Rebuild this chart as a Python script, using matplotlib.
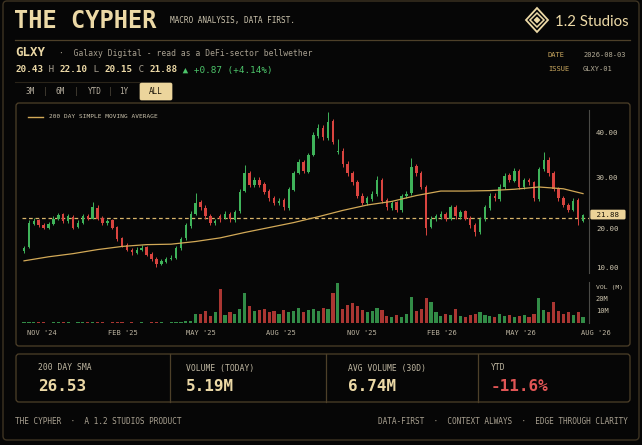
import numpy as np
import pandas as pd
import matplotlib.pyplot as plt
from matplotlib.patches import FancyBboxPatch, Polygon

# ---- data (4 trading-day candles, Nov 2024 -> Aug 2026) ----
opens = [13.8, 14.6, 19.8, 20.6, 19.6, 19.0, 19.7, 21.0, 21.9, 20.4,
         21.4, 19.1, 20.0, 21.6, 21.0, 23.4, 21.1, 19.9, 20.6, 19.1,
         16.6, 15.1, 14.1, 13.4, 14.0, 14.6, 13.1, 12.1, 10.9, 11.4,
         12.1, 12.3, 14.4, 16.6, 19.4, 22.1, 24.6, 23.4, 21.6, 19.9,
         21.5, 21.1, 22.1, 20.7, 22.6, 27.1, 31.2, 28.4, 29.6, 28.6,
         27.1, 25.6, 24.4, 25.1, 23.4, 27.4, 31.1, 33.6, 31.4, 35.1,
         39.4, 41.2, 38.9, 42.6, 35.8, 36.1, 33.1, 31.1, 29.1, 26.1,
         24.4, 25.4, 26.4, 29.6, 25.1, 23.4, 24.6, 22.9, 25.9, 26.6,
         32.6, 31.1, 28.1, 19.1, 20.9, 21.4, 22.1, 20.9, 23.6, 21.4,
         22.6, 21.1, 19.6, 17.9, 20.9, 23.4, 26.1, 25.4, 27.9, 30.6,
         29.4, 31.6, 27.9, 29.6, 29.1, 25.4, 31.9, 34.1, 31.1, 27.6,
         25.6, 24.1, 22.9, 25.1, 20.43]
highs = [14.9, 20.6, 21.2, 20.9, 20.0, 20.3, 21.6, 22.3, 22.2, 22.0,
         21.7, 20.6, 22.0, 22.1, 24.7, 23.9, 21.5, 21.0, 20.9, 19.4,
         17.0, 15.5, 14.5, 14.6, 15.2, 14.9, 13.5, 12.4, 11.9, 12.5,
         12.8, 14.9, 17.0, 20.0, 22.6, 26.7, 25.2, 23.9, 21.9, 20.9,
         21.9, 22.6, 22.5, 23.0, 27.6, 32.9, 31.6, 30.2, 30.2, 29.1,
         27.5, 26.0, 25.6, 25.5, 28.0, 31.6, 34.2, 34.0, 35.6, 40.2,
         42.0, 41.8, 44.7, 43.2, 38.6, 36.6, 33.8, 31.6, 29.5, 26.6,
         26.0, 27.0, 30.5, 30.0, 25.6, 25.0, 25.0, 26.5, 27.0, 34.4,
         33.2, 31.5, 28.4, 21.5, 22.0, 22.6, 22.5, 24.0, 23.9, 23.0,
         22.9, 21.5, 19.9, 21.4, 24.0, 26.6, 26.6, 28.6, 31.0, 31.2,
         32.3, 31.9, 30.0, 30.0, 29.4, 32.5, 35.8, 34.6, 31.5, 28.0,
         26.0, 24.5, 25.6, 25.5, 22.10]
lows = [13.4, 14.4, 19.5, 19.2, 18.6, 18.7, 19.5, 20.7, 20.1, 20.1,
        18.7, 18.8, 19.8, 20.6, 20.8, 20.6, 19.6, 19.6, 18.6, 16.1,
        14.6, 13.7, 13.0, 13.1, 13.8, 12.7, 11.6, 10.2, 10.6, 11.1,
        11.7, 12.0, 14.1, 16.2, 19.0, 21.8, 23.0, 21.0, 19.6, 19.6,
        20.2, 20.8, 20.3, 20.3, 22.2, 26.8, 28.0, 27.9, 28.0, 26.5,
        25.0, 24.0, 24.0, 23.0, 23.0, 27.0, 30.8, 31.0, 31.0, 34.8,
        38.9, 38.5, 38.5, 37.5, 35.3, 32.5, 30.5, 28.5, 25.6, 24.0,
        24.0, 25.0, 26.0, 24.5, 23.0, 23.0, 22.5, 22.5, 25.5, 26.2,
        30.5, 27.5, 17.3, 18.8, 20.5, 21.0, 20.5, 20.6, 21.0, 21.0,
        20.6, 19.0, 17.2, 17.5, 20.5, 23.0, 25.0, 25.0, 27.5, 29.0,
        29.0, 27.6, 27.5, 28.5, 25.0, 25.0, 31.5, 30.5, 27.0, 25.0,
        23.6, 22.5, 22.6, 19.6, 20.15]
closes = [14.5, 20.0, 20.5, 19.5, 19.0, 19.8, 21.0, 21.8, 20.5, 21.5,
          19.0, 20.0, 21.5, 21.0, 23.5, 21.0, 20.0, 20.5, 19.0, 16.5,
          15.0, 14.0, 13.5, 14.0, 14.5, 13.0, 12.0, 10.8, 11.5, 12.0,
          12.2, 14.5, 16.5, 19.5, 22.0, 24.5, 23.5, 21.5, 20.0, 20.5,
          21.0, 22.0, 20.8, 22.5, 27.0, 31.0, 28.5, 29.5, 28.5, 27.0,
          25.5, 24.5, 25.0, 23.5, 27.5, 31.0, 33.5, 31.5, 35.0, 39.5,
          41.0, 39.0, 42.5, 38.0, 36.0, 33.0, 31.0, 29.0, 26.0, 24.5,
          25.5, 26.5, 29.5, 25.0, 23.5, 24.5, 23.0, 26.0, 26.5, 32.5,
          31.0, 28.0, 19.0, 21.0, 21.5, 22.0, 21.0, 23.5, 21.5, 22.5,
          21.0, 19.5, 18.0, 21.0, 23.5, 26.0, 25.5, 28.0, 30.5, 29.5,
          31.5, 28.0, 29.5, 29.0, 25.5, 32.0, 34.0, 31.0, 27.5, 25.5,
          24.0, 23.0, 25.0, 21.01, 21.88]
volume_m = [0.8, 1.2, 0.6, 0.5, 0.7, 0.4, 0.6, 0.9, 0.5, 0.6,
            0.4, 0.5, 0.7, 0.5, 1.1, 0.6, 0.5, 0.4, 0.6, 0.8,
            0.5, 0.4, 0.6, 0.3, 0.5, 0.4, 0.6, 0.9, 0.5, 0.4,
            0.6, 0.7, 1.0, 1.4, 1.8, 7.5, 8.0, 10.0, 6.0, 9.0,
            29.0, 7.0, 9.0, 8.0, 12.0, 25.0, 14.0, 10.0, 11.0, 12.0,
            9.0, 10.0, 8.0, 11.0, 9.0, 10.0, 13.0, 9.0, 11.0, 12.0,
            10.0, 13.0, 12.0, 25.0, 34.0, 12.0, 15.0, 17.0, 14.0, 11.0,
            9.0, 10.0, 13.0, 11.0, 6.0, 5.0, 7.0, 5.0, 8.0, 22.0,
            10.0, 12.0, 21.0, 18.0, 9.0, 6.0, 8.0, 7.0, 12.0, 6.0,
            5.0, 7.0, 8.0, 9.0, 7.0, 6.0, 5.0, 8.0, 6.0, 7.0,
            5.0, 6.0, 7.0, 5.0, 8.0, 21.0, 11.0, 9.0, 18.0, 10.0,
            8.0, 9.0, 7.0, 9.0, 5.19]
# 200 day SMA, read every 5th candle plus the last one
sma_200 = [11.6, 12.5, 13.2, 14.1, 14.8, 15.2, 15.3, 15.9, 16.7, 17.9,
           19.0, 20.1, 21.4, 22.8, 24.0, 24.8, 26.1, 27.1, 27.1, 27.2,
           27.5, 28.0, 27.6, 26.53]
prev_close = 21.01

price_ticks = [10, 20, 30, 40]
vol_ticks = [10, 20]
month_starts = ['2024-11-01', '2025-02-01', '2025-05-01', '2025-08-01',
                '2025-11-01', '2026-02-01', '2026-05-01', '2026-08-01']
month_labels = ["NOV '24", "FEB '25", "MAY '25", "AUG '25",
                "NOV '25", "FEB '26", "MAY '26", "AUG '26"]

stat_names = ['200 DAY SMA', 'VOLUME (TODAY)', 'AVG VOLUME (30D)', 'YTD']
stat_values = ['26.53', '5.19M', '6.74M', '-11.6%']

# ---- colours / fonts ----
BG = '#060606'
GOLD = '#ecd9a6'
GOLD_DIM = '#4d4029'
GRAY = '#a9a191'
LIGHT = '#cbc3ad'
UP = '#3fb35a'
DOWN = '#d9443f'
SMA_C = '#d2a957'
MONO = 'DejaVu Sans Mono'
W, H = 642, 445

fig = plt.figure(figsize=(W / 100, H / 100), dpi=100, facecolor=BG)


def box(x0, y0, x1, y1):
    return [x0 / W, 1 - y1 / H, (x1 - x0) / W, (y1 - y0) / H]


bg = fig.add_axes([0, 0, 1, 1])
bg.set_xlim(0, W)
bg.set_ylim(H, 0)
bg.set_axis_off()
bg.set_facecolor(BG)


def txt(x, y, s, size, color, weight='normal', ha='left', family=MONO):
    bg.text(x, y, s, fontsize=size, color=color, fontweight=weight,
            ha=ha, va='center', family=family)


def frame(x0, y0, x1, y1, ec=GOLD_DIM, lw=0.9, fc='none', r=3):
    bg.add_patch(FancyBboxPatch((x0, y0), x1 - x0, y1 - y0,
                                boxstyle=f'round,pad=0,rounding_size={r}',
                                ec=ec, fc=fc, lw=lw))


# outer frame, header
frame(3, 1, 639, 440, ec='#3d3322', lw=1.0, r=4)
txt(14, 21, 'THE CYPHER', 17, GOLD, 'bold')
txt(170, 21, 'MACRO ANALYSIS, DATA FIRST.', 5.6, LIGHT)

# logo
cx, cy = 537, 20
bg.add_patch(Polygon([(cx, cy - 12), (cx + 11, cy), (cx, cy + 12), (cx - 11, cy)],
                     closed=True, fill=False, ec=GOLD, lw=1.3))
bg.add_patch(Polygon([(cx, cy - 7), (cx + 7, cy), (cx, cy + 7), (cx - 7, cy)],
                     closed=True, fill=False, ec=GOLD, lw=1.1))
bg.add_patch(Polygon([(cx, cy - 3), (cx + 3, cy), (cx, cy + 3), (cx - 3, cy)],
                     closed=True, fc=GOLD, ec=GOLD, lw=0.5))
txt(555, 22, '1.2 Studios', 10.8, GOLD, family='Lato')

bg.plot([15, 630], [40, 40], color=GOLD_DIM, lw=0.9)

# ticker line
txt(15, 53, 'GLXY', 8.9, GOLD, 'bold')
txt(59, 53, '·  Galaxy Digital - read as a DeFi-sector bellwether', 5.8, GRAY)

cw = 0.602 * 6.7 * 100 / 72
parts = [('20.43', GOLD, 'bold'), (' H ', GRAY, 'normal'), ('22.10', GOLD, 'bold'),
         (' L ', GRAY, 'normal'), ('20.15', GOLD, 'bold'), (' C ', GRAY, 'normal'),
         ('21.88', GOLD, 'bold'), (' ▲ +0.87 (+4.14%)', '#4cc46a', 'normal')]
col = 0
for s, c, w in parts:
    txt(15 + col * cw, 70, s, 6.7, c, w)
    col += len(s)

txt(548, 55, 'DATE', 5.0, '#c9a75e')
txt(583, 55, '2026-08-03', 5.0, '#b5ad98')
txt(548, 69, 'ISSUE', 5.0, '#c9a75e')
txt(583, 69, 'GLXY-01', 5.0, '#b5ad98')

# range buttons
bg.plot([15, 140], [82, 82], color='#2a2419', lw=0.8)
for x, s in [(30, '3M'), (45, '|'), (60, '6M'), (76, '|'), (95, 'YTD'), (110, '|'), (124, '1Y')]:
    txt(x, 91, s, 5.5, '#b8b0a0' if s != '|' else '#5a5244', ha='center')
frame(140, 83, 172, 100, ec='#ecd59c', fc='#ecd59c', lw=0.5, r=1.5)
txt(156, 91.5, 'ALL', 5.5, '#1a1408', ha='center')

# chart panel
frame(16, 103, 630, 346)
bg.plot([28, 43], [117, 117], color=SMA_C, lw=1.0)
txt(49, 117, '200 DAY SIMPLE MOVING AVERAGE', 4.4, LIGHT)

# ---- price + volume axes ----
days = pd.bdate_range('2024-11-01', '2026-08-03')
idx = np.arange(len(closes))
o, h, l, c = map(np.array, (opens, highs, lows, closes))
up = c >= o
colors = np.where(up, UP, DOWN)

ax = fig.add_axes(box(22, 110, 589, 273))
axv = fig.add_axes(box(22, 282, 589, 323))
for a in (ax, axv):
    a.set_facecolor('none')
    for side in ('left', 'top', 'bottom'):
        a.spines[side].set_visible(False)
    a.spines['right'].set_color('#4a4a46')
    a.spines['right'].set_linewidth(0.8)
    a.set_xticks([])
    a.set_yticks([])
    a.set_xlim(-0.41, 115.22)

ax.set_ylim(8.9, 45.1)
ax.vlines(idx, l, h, colors=colors, lw=0.7, zorder=2)
ax.bar(idx, np.maximum(np.abs(c - o), 0.12), bottom=np.minimum(o, c),
       width=0.5, color=colors, lw=0, zorder=3)
sma_x = list(range(0, len(closes), 5)) + [len(closes) - 1]
ax.plot(sma_x, sma_200, color=SMA_C, lw=0.9, zorder=4)
ax.axhline(prev_close, color='#d9b56a', lw=0.9, ls=(0, (3, 2.2)), zorder=1)

for v in price_ticks:
    dy = -4.5 if abs(v - closes[-1]) < 2.5 else 0
    ax.annotate(f'{v:.2f}', xy=(1, v), xycoords=('axes fraction', 'data'),
                xytext=(5, dy), textcoords='offset points', fontsize=5.4,
                color=LIGHT, family=MONO, ha='left', va='center', annotation_clip=False)
ax.annotate(f' {closes[-1]:.2f} ', xy=(1, closes[-1]), xycoords=('axes fraction', 'data'),
            xytext=(2.3, 0), textcoords='offset points', fontsize=5.4,
            color='#1a1408', family=MONO, ha='left', va='center', annotation_clip=False,
            bbox=dict(boxstyle='round,pad=0.25,rounding_size=0.2', fc='#ecd398', ec='none'))

axv.set_ylim(0, 34.7)
axv.bar(idx, volume_m, width=0.65, color=colors, alpha=0.78, lw=0)
for v in vol_ticks:
    axv.annotate(f'{v}M', xy=(1, v), xycoords=('axes fraction', 'data'),
                 xytext=(5, 0), textcoords='offset points', fontsize=5.0,
                 color=LIGHT, family=MONO, ha='left', va='center', annotation_clip=False)
axv.annotate('VOL (M)', xy=(1, 29.7), xycoords=('axes fraction', 'data'),
             xytext=(5, 0), textcoords='offset points', fontsize=4.6,
             color=LIGHT, family=MONO, ha='left', va='center', annotation_clip=False)

for m, lab in zip(month_starts, month_labels):
    pos = days.searchsorted(pd.Timestamp(m)) / 4
    pos = min(max(pos + 0.7, -0.4), 113.5)
    axv.annotate(lab, xy=(pos, 0), xycoords=('data', 'axes fraction'),
                 xytext=(0, -7.5), textcoords='offset points', fontsize=5.0,
                 color='#bdb5a2', family=MONO, ha='left', va='center', annotation_clip=False)

# ---- stats row ----
frame(16, 354, 630, 402)
for xd in (170, 326, 478):
    bg.plot([xd, xd], [354, 402], color=GOLD_DIM, lw=0.9)
for x, name, val in zip((38, 186, 348, 491), stat_names, stat_values):
    txt(x, 368, name, 5.8, '#c0b8a2')
    txt(x, 386.5, val, 11.5, '#e05555' if val.startswith('-') else GOLD, 'bold')

# footer
txt(15, 422, 'THE CYPHER  ·  A 1.2 STUDIOS PRODUCT', 5.6, GRAY)
txt(628, 422, 'DATA-FIRST  ·  CONTEXT ALWAYS  ·  EDGE THROUGH CLARITY', 5.6, GRAY, ha='right')

fig.savefig('out.png', dpi=100, facecolor=BG)
